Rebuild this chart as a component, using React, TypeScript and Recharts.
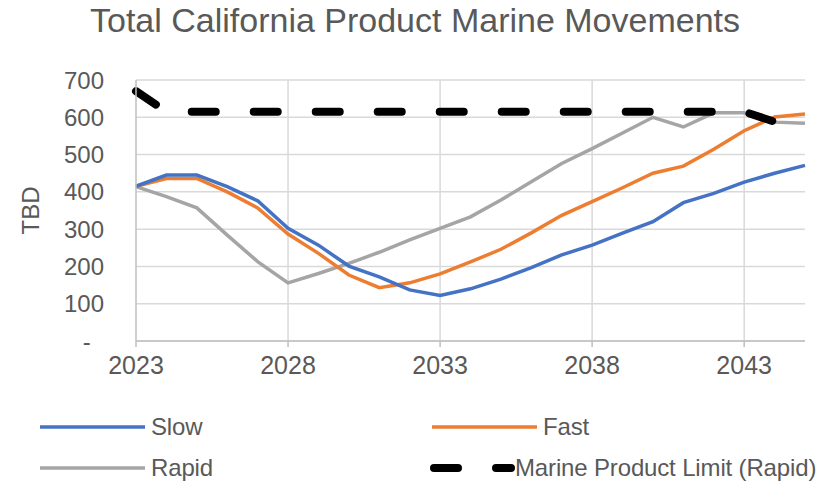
import React from "react";
import { LineChart, Line, XAxis, YAxis, CartesianGrid, Label } from "recharts";

const years = [
  2023, 2024, 2025, 2026, 2027, 2028, 2029, 2030, 2031, 2032, 2033, 2034,
  2035, 2036, 2037, 2038, 2039, 2040, 2041, 2042, 2043, 2044, 2045,
];
const slow = [415, 445, 445, 414, 376, 302, 257, 201, 172, 137, 122, 140, 166, 197, 231, 257, 289, 320, 371, 396, 426, 450, 471];
const fast = [415, 436, 436, 400, 357, 287, 235, 177, 143, 156, 180, 212, 246, 290, 337, 374, 411, 450, 469, 514, 564, 601, 609];
const rapid = [414, 387, 357, 284, 213, 156, 181, 208, 238, 271, 302, 333, 378, 427, 476, 516, 558, 600, 574, 612, 612, 587, 584];
const limit: (number | null)[] = [670, 615, 615, 615, 615, 615, 615, 615, 615, 615, 615, 615, 615, 615, 615, 615, 615, 615, 615, 615, 615, 588, null];

const xTicks = [2023, 2028, 2033, 2038, 2043];
const yTicks = [0, 100, 200, 300, 400, 500, 600, 700];
const xDomain = [2023, 2045];

const TEXT = "#595959";
const FONT = "'Liberation Sans', Arial, sans-serif";

const data = years.map((year, i) => ({
  year,
  slow: slow[i],
  fast: fast[i],
  rapid: rapid[i],
  limit: limit[i],
}));

const legendItems = [
  { name: "Slow", color: "#4472C4", dashed: false, left: 40, top: 412 },
  { name: "Fast", color: "#ED7D31", dashed: false, left: 432, top: 412 },
  { name: "Rapid", color: "#A5A5A5", dashed: false, left: 40, top: 453 },
  { name: "Marine Product Limit (Rapid)", color: "#000000", dashed: true, left: 430, top: 453 },
];

// vertical grid only at the labelled years (no line on the right edge)
const verticalLines = (props: any) => {
  const scale = props?.xAxis?.scale;
  if (typeof scale === "function") return xTicks.slice(1).map((t) => scale(t));
  const off = props?.offset ?? {};
  const left = off.left ?? 0;
  const width = off.width ?? 0;
  return xTicks
    .slice(1)
    .map((t) => left + ((t - xDomain[0]) / (xDomain[1] - xDomain[0])) * width);
};

export default function App() {
  return (
    <div style={{ position: "absolute", left: 0, top: 0, width: 826, height: 484, background: "#fff", fontFamily: FONT }}>
      <div
        style={{
          position: "absolute",
          top: 1,
          left: 2,
          width: 826,
          textAlign: "center",
          fontSize: 34,
          color: TEXT,
        }}
      >
        Total California Product Marine Movements
      </div>
      <LineChart
        width={826}
        height={484}
        data={data}
        margin={{ top: 80, right: 21, bottom: 103, left: 0 }}
        style={{ position: "absolute", left: 0, top: 0 }}
      >
        <CartesianGrid stroke="#d9d9d9" strokeWidth={1.5} verticalCoordinatesGenerator={verticalLines} />
        <XAxis
          dataKey="year"
          type="number"
          domain={xDomain}
          ticks={xTicks}
          height={40}
          stroke="#bfbfbf"
          strokeWidth={1.5}
          tickSize={6}
          tickMargin={9}
          tick={{ fill: TEXT, fontSize: 25, fontFamily: FONT }}
        />
        <YAxis
          domain={[0, 700]}
          ticks={yTicks}
          width={136}
          axisLine={{ stroke: "#bfbfbf", strokeWidth: 1.5 }}
          tickLine={false}
          tickSize={0}
          tickMargin={32}
          tickFormatter={(v: number) => (v === 0 ? "-\u00a0\u00a0" : String(v))}
          tick={{ fill: TEXT, fontSize: 24, fontFamily: FONT }}
        >
          <Label
            value="TBD"
            angle={-90}
            position="insideLeft"
            offset={30}
            style={{ fill: TEXT, fontSize: 24, fontFamily: FONT, textAnchor: "middle" }}
          />
        </YAxis>
        <Line dataKey="rapid" stroke="#A5A5A5" strokeWidth={3.5} dot={false} isAnimationActive={false} />
        <Line dataKey="fast" stroke="#ED7D31" strokeWidth={3.5} dot={false} isAnimationActive={false} />
        <Line dataKey="slow" stroke="#4472C4" strokeWidth={3.5} dot={false} isAnimationActive={false} />
        <Line
          dataKey="limit"
          stroke="#000000"
          strokeWidth={8}
          strokeDasharray="24 38"
          strokeLinecap="round"
          dot={false}
          isAnimationActive={false}
        />
      </LineChart>
      {legendItems.map((item) => (
        <div
          key={item.name}
          style={{
            position: "absolute",
            left: item.left,
            top: item.top,
            height: 30,
            display: "flex",
            alignItems: "center",
            fontSize: 24,
            letterSpacing: -0.15,
            color: TEXT,
          }}
        >
          {item.dashed ? (
            <svg width={85} height={30}>
              <line x1={4} y1={15} x2={81} y2={15} stroke="#000" strokeWidth={8} strokeLinecap="round" strokeDasharray="24 38" />
            </svg>
          ) : (
            <svg width={111} height={30}>
              <line x1={0} y1={15} x2={105} y2={15} stroke={item.color} strokeWidth={3.5} />
            </svg>
          )}
          <span>{item.name}</span>
        </div>
      ))}
    </div>
  );
}
